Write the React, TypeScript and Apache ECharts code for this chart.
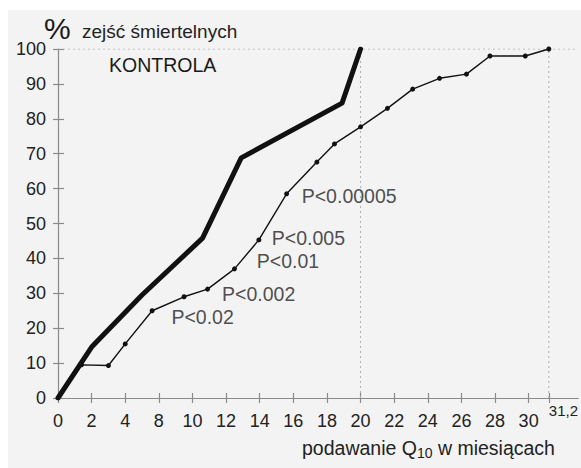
import React, { useEffect, useRef } from "react";
import * as echarts from "echarts";

const FONT = '"Liberation Sans", Arial, Helvetica, sans-serif';

// x tick labels exactly as printed on the reference (the "6" is missing there)
const xTickLabels = [0, 2, 4, 8, 10, 12, 14, 16, 18, 20, 22, 24, 26, 28, 30];
const xEndTick = 31.2;
const xAxisEnd = 32.95;

// dotted guide lines
const guideX = [20, 31.2];
const guideY = 100;

// control group (thick line)
const kontrolaX = [0, 2, 6, 10.6, 12.9, 18.9, 20];
const kontrolaY = [0, 14.6, 29.5, 45.8, 68.8, 84.5, 100];

// Q10 group (thin line with dots)
const q10X = [0, 1.4, 3, 4, 7.2, 9.5, 10.9, 12.5, 13.95, 15.6, 17.4, 18.45, 20, 21.6, 23.1, 24.7, 26.3, 27.7, 29.8, 31.2];
const q10Y = [0, 9.5, 9.3, 15.5, 25, 29, 31.2, 37, 45.3, 58.5, 67.6, 72.8, 77.7, 83, 88.5, 91.6, 92.8, 98, 98, 100];

// significance annotations
const pLabels = ["P<0.02", "P<0.002", "P<0.01", "P<0.005", "P<0.00005"];
const pLabelX = [8.75, 11.76, 13.83, 14.72, 16.5];
const pLabelY = [23.2, 29.9, 39.3, 45.8, 58.0];

// the printed axis skips "6": positions between 4 and 8 are compressed into one step
function toAxis(v: number): number {
  if (v <= 4) return v;
  if (v < 8) return 4 + (v - 4) / 2;
  return v - 2;
}

const tickPos = xTickLabels.map(toAxis);
const endTickPos = toAxis(xEndTick);

function labelFor(pos: number): string {
  for (let i = 0; i < tickPos.length; i++) {
    if (Math.abs(tickPos[i] - pos) < 1e-6) return String(xTickLabels[i]);
  }
  if (Math.abs(pos - endTickPos) < 1e-6) return String(xEndTick).replace(".", ",");
  return "";
}

export default function App() {
  const ref = useRef<HTMLDivElement>(null);

  useEffect(() => {
    if (!ref.current) return;
    const chart = echarts.init(ref.current, null, { renderer: "svg" });

    const kontrola = kontrolaX.map((x, i) => [toAxis(x), kontrolaY[i]]);
    const q10 = q10X.map((x, i) =>
      i === 0 ? { value: [toAxis(x), q10Y[i]], symbol: "none" } : { value: [toAxis(x), q10Y[i]] }
    );
    const ann = pLabels.map((name, i) => ({ name, value: [toAxis(pLabelX[i]), pLabelY[i]] }));

    const axisGray = "#8a8a8a";
    const textCol = "#222222";
    const guideStyle = { type: [2, 3] as any, color: "#b0b0b0", width: 1 };

    const guideSeries: any[] = guideX.map((gx) => ({
      type: "line",
      data: [
        [toAxis(gx), 0],
        [toAxis(gx), guideY],
      ],
      symbol: "none",
      silent: true,
      lineStyle: guideStyle,
      z: 1,
    }));
    guideSeries.push({
      type: "line",
      data: [
        [0, guideY],
        [toAxis(xAxisEnd), guideY],
      ],
      symbol: "none",
      silent: true,
      lineStyle: guideStyle,
      z: 1,
    });

    const baseX = {
      type: "value" as const,
      min: 0,
      max: toAxis(xAxisEnd),
      position: "bottom" as const,
      splitLine: { show: false },
    };
    const baseY = {
      type: "value" as const,
      min: 0,
      max: 100,
      interval: 10,
      position: "left" as const,
      splitLine: { show: false },
    };

    chart.setOption({
      animation: false,
      backgroundColor: "#ffffff",
      textStyle: { fontFamily: FONT },
      grid: { left: 58, right: 0, top: 49, bottom: 70, containLabel: false },
      graphic: [
        {
          type: "rect",
          z: -10,
          silent: true,
          shape: { x: 8, y: 10, width: 573, height: 458 },
          style: { fill: "#f3f3f3" },
        },
        {
          type: "text",
          x: 44,
          y: 28,
          style: { text: "%", fontSize: 30, fontFamily: FONT, fill: "#1a1a1a", verticalAlign: "middle", align: "left" },
        },
        {
          type: "text",
          x: 82,
          y: 31,
          style: { text: "zejść śmiertelnych", fontSize: 19, fontFamily: FONT, fill: textCol, verticalAlign: "middle", align: "left" },
        },
        {
          type: "text",
          x: 109,
          y: 65,
          style: { text: "KONTROLA", fontSize: 19.5, fontFamily: FONT, fill: "#1a1a1a", verticalAlign: "middle", align: "left" },
        },
        {
          type: "text",
          x: 302,
          y: 448,
          style: {
            text: "podawanie Q{sub|10} w miesiącach",
            fontSize: 19.5,
            fontFamily: FONT,
            fill: textCol,
            verticalAlign: "middle",
            align: "left",
            rich: {
              sub: { fontSize: 14, fontFamily: FONT, fill: textCol, padding: [10, 0, 0, 0] },
            },
          },
        },
      ],
      xAxis: [
        {
          ...baseX,
          axisLine: { show: true, onZero: false, lineStyle: { color: axisGray, width: 1.2 } },
          axisTick: { show: true, length: 5, customValues: tickPos.concat([endTickPos]), lineStyle: { color: axisGray, width: 1.2 } },
          axisLabel: {
            show: true,
            customValues: tickPos,
            margin: 14,
            fontSize: 18,
            fontFamily: FONT,
            color: textCol,
            formatter: (v: number) => labelFor(v),
          },
        },
        {
          ...baseX,
          axisLine: { show: false },
          axisTick: { show: true, inside: true, length: 5, customValues: tickPos.concat([endTickPos]), lineStyle: { color: axisGray, width: 1.2 } },
          axisLabel: {
            show: true,
            customValues: [endTickPos],
            margin: 5,
            fontSize: 15,
            fontFamily: FONT,
            color: textCol,
            align: "left",
            formatter: (v: number) => labelFor(v),
          },
        },
      ],
      yAxis: [
        {
          ...baseY,
          axisLine: { show: true, onZero: false, lineStyle: { color: axisGray, width: 1.2 } },
          axisTick: { show: true, length: 5, lineStyle: { color: axisGray, width: 1.2 } },
          axisLabel: { show: true, margin: 12, fontSize: 18, fontFamily: FONT, color: textCol },
        },
        {
          ...baseY,
          axisLine: { show: false },
          axisTick: { show: true, inside: true, length: 6, lineStyle: { color: axisGray, width: 1.2 } },
          axisLabel: { show: false },
        },
      ],
      series: [
        ...guideSeries,
        {
          name: "Kontrola",
          type: "line",
          data: kontrola,
          symbol: "none",
          lineStyle: { color: "#111111", width: 5, join: "round", cap: "round" },
          z: 3,
        },
        {
          name: "Q10",
          type: "line",
          data: q10,
          symbol: "circle",
          symbolSize: 5,
          showSymbol: true,
          itemStyle: { color: "#111111" },
          lineStyle: { color: "#111111", width: 1.4 },
          z: 4,
        },
        {
          name: "P",
          type: "scatter",
          data: ann,
          symbolSize: 0,
          silent: true,
          label: {
            show: true,
            position: "right",
            distance: 0,
            formatter: (p: any) => p.name,
            fontSize: 19.5,
            fontFamily: FONT,
            color: textCol,
          },
          z: 5,
        },
      ],
    });

    return () => chart.dispose();
  }, []);

  return (
    <div
      ref={ref}
      style={{ position: "absolute", left: 0, top: 0, width: 581, height: 468 }}
    />
  );
}
